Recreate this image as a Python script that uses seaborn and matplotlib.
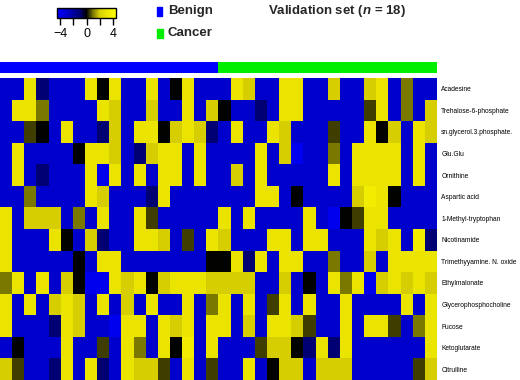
import numpy as np
import pandas as pd
import seaborn as sns
import matplotlib.pyplot as plt
from matplotlib.colors import LinearSegmentedColormap, ListedColormap
from matplotlib.patches import Rectangle

metabolites = ['Acadesine', 'Trehalose-6-phosphate', 'sn.glycerol.3.phosphate.', 'Glu.Glu',
               'Ornithine', 'Aspartic acid', '1-Methyl-tryptophan', 'Nicotinamide',
               'Trimethyyamine. N. oxide', 'Ethylmalonate', 'Glycerophosphocholine',
               'Fucose', 'Ketoglutarate', 'Citrulline']

groups = ['Benign'] * 18 + ['Cancer'] * 18

# z-scores per metabolite (rows) and sample (columns)
scores = [
    [-3, -3, 3, -1, -3, -3, -3, 3, 0, 3, -3, -3, 3, -3, 0, 3, -3, -3,
     -3, 3, 2, -3, -3, 3, 3, -3, -3, 2, -3, -3, 2, 3, -3, 1, -3, -3],
    [-3, 3, 3, 1, -3, -3, -3, -3, 3, 2, -3, -3, 2, -3, -3, 3, -3, 2,
     0, -3, -3, -1, -3, 3, 3, -3, -3, -3, -3, -3, 0.5, 3, -3, 1, -3, 2],
    [-3, -3, 0.5, 0, -3, 3, -3, -3, -1, 2, -3, 3, 3, 0, 2, 3, 2, -1,
     -3, 3, -3, -3, 3, 2, -3, -3, -3, 0.5, -3, -3, 3, 0, 2, -3, 3, 2],
    [-3, 3, -3, -3, -3, -3, 0, 3, 3, 2, -3, -1, 2, 3, 3, -3, 3, -3,
     -3, -3, -3, 3, -3, 2, -4, -3, -3, 1, -3, 3, 3, 3, 3, -3, 3, -3],
    [-3, 3, -3, -1, -3, -3, -3, 3, -4, 3, -3, 3, -3, 3, 3, -3, 3, -3,
     -3, 2, -3, 3, -3, -3, -3, -3, -3, 3, -3, 3, 3, 3, 3, -3, 3, -3],
    [-3, -3, 1, -3, -3, -3, -3, 3, 2, -3, -3, -3, -1, 3, -3, -3, -3, -3,
     -3, -3, -3, 3, 3, -3, 0, -3, -3, -3, -3, 2, 3.5, 3, 0, -3, -3, -3],
    [3, -3, 2, 2, 2, -3, 1, -3, 3, -3, -3, 3, 0.5, -3, -3, -3, -3, -3,
     3, -3, 3, -3, -3, -3, -3, 3, -3, -4, 0, 0.5, 3, 3, -3, -3, -3, -3],
    [3, -3, -3, -3, 3, 0, -3, 2, -1, -3, -3, 3, 3, 2, -3, 0.5, -3, 3,
     2, -3, -3, -3, 3, 3, -3, 3, 3, -3, -3, -3, 3, 2, 3, -3, 3.5, -1],
    [3, -3, -3, -3, -3, -3, 0, -3, 3, 3, -3, -3, -3, -3, -3, -3, -3, 0,
     0, 3, -1, 3, -3, 3, 3, -3, -3, 1, -3, -3, 2, -3, 3, 3, 3, 3],
    [1, 3, -3, 3, -3, 2, 0, -4, -4, 3, 2, 3, 0, 2, 3, 3, 3, 2,
     2, 2, 2, -3, -3, 2, -3, 0, -3, 3, 1, 3, -4, 2, 3, 2, 3, 2],
    [3, -3, 3, -3, 2, 3, 2, -3, 3, -3, 2, -3, 3, -3, -3, 3, -3, 1,
     3, -3, 3, -3, 0.5, 3, -3, 3, -3, -3, 3, -3, -3, -3, -3, 3, -3, 3],
    [3, -3, -3, -3, -1, 3, 2, -3, -3, -4, 3, 3, -3, 3, 2, 3, -3, 3,
     3, -3, 2, -3, 3, 3, 2, 0.5, -3, -3, 3, -3, 3, 3, 0.5, -3, 1, 3],
    [-3, 0, -3, -3, -3, 3, -3, -3, 0.5, -3, 3, 1, -3, 3, 0, 3.5, -3, 3,
     -3, -3, -3, 0.5, 2, 2, 0, -1, 3, -1, 3, -3, -3, -3, -3, -3, -3, 3],
    [2, 0.5, -3, -3, -1, 3, -3, 3, -1, -3, 3, 2, 2, 0.5, -3, 3, -3, 0.5,
     -3, -3, 3, -3, 0, 2, 2, -3, 2, 2, 2, -3, -3, -3, -3, -3, 0.5, 2],
]

df = pd.DataFrame(scores, index=metabolites)

sns.set_style("white")
plt.rcParams['font.family'] = ['Liberation Sans', 'DejaVu Sans']
plt.rcParams['mathtext.fontset'] = 'custom'
plt.rcParams['mathtext.it'] = 'Liberation Sans:italic:bold'
plt.rcParams['mathtext.rm'] = 'Liberation Sans:bold'

cmap = LinearSegmentedColormap.from_list('by', [
    (0.0, (0, 0, 1.0)),
    (0.1667, (0, 0, 0.80)),
    (0.3889, (0, 0, 0.45)),
    (0.5, (0, 0, 0)),
    (0.6111, (0.48, 0.47, 0)),
    (0.7222, (0.84, 0.81, 0)),
    (0.8333, (0.92, 0.89, 0)),
    (1.0, (1, 1, 0)),
])

W, H = 520, 380
fig = plt.figure(figsize=(5.2, 3.8), dpi=100)
ax = fig.add_axes([0, 0, 437 / W, 302 / H])
gax = fig.add_axes([0, (H - 73) / H, 437 / W, 11 / H])
cax = fig.add_axes([57 / W, (H - 18) / H, 59 / W, 10 / H])

sns.heatmap(df, ax=ax, cmap=cmap, vmin=-4.5, vmax=4.5, cbar_ax=cax,
            cbar_kws={'orientation': 'horizontal', 'ticks': [-4, -2, 0, 2, 4]},
            xticklabels=False, yticklabels=True)
ax.yaxis.tick_right()
ax.tick_params(axis='y', length=0, pad=3)
for t in ax.get_yticklabels():
    t.set_rotation(0)
    t.set_ha('left')
    t.set_fontsize(4.8)
    t.set_color('black')
ax.set_xlabel('')
ax.set_ylabel('')

gcodes = pd.DataFrame([[0 if g == 'Benign' else 1 for g in groups]])
sns.heatmap(gcodes, ax=gax, cmap=ListedColormap(['#0000ff', '#00ee00']),
            vmin=0, vmax=1, cbar=False, xticklabels=False, yticklabels=False)

cb = ax.collections[0].colorbar
cb.outline.set_visible(True)
cb.outline.set_edgecolor('black')
cb.outline.set_linewidth(1)
cax.tick_params(axis='x', direction='out', length=5, width=1, color='black',
                labelsize=9, labelcolor='black', pad=2, bottom=True)
cax.set_xticklabels(['\u22124', '', '0', '', '4'])

fig.patches.append(Rectangle((157 / W, (H - 16) / H), 5 / W, 9 / H,
                             transform=fig.transFigure, color='#0000ff'))
fig.patches.append(Rectangle((157 / W, (H - 38) / H), 6 / W, 9 / H,
                             transform=fig.transFigure, color='#00ee00'))
fig.text(168 / W, (H - 11) / H, 'Benign', fontsize=9.5, fontweight='bold', va='center')
fig.text(168 / W, (H - 33) / H, 'Cancer', fontsize=9.5, fontweight='bold', va='center')
fig.text(268 / W, (H - 11) / H, r'Validation set ($n$ = 18)', fontsize=9.5,
         fontweight='bold', va='center')

fig.savefig('out.png', dpi=100)
